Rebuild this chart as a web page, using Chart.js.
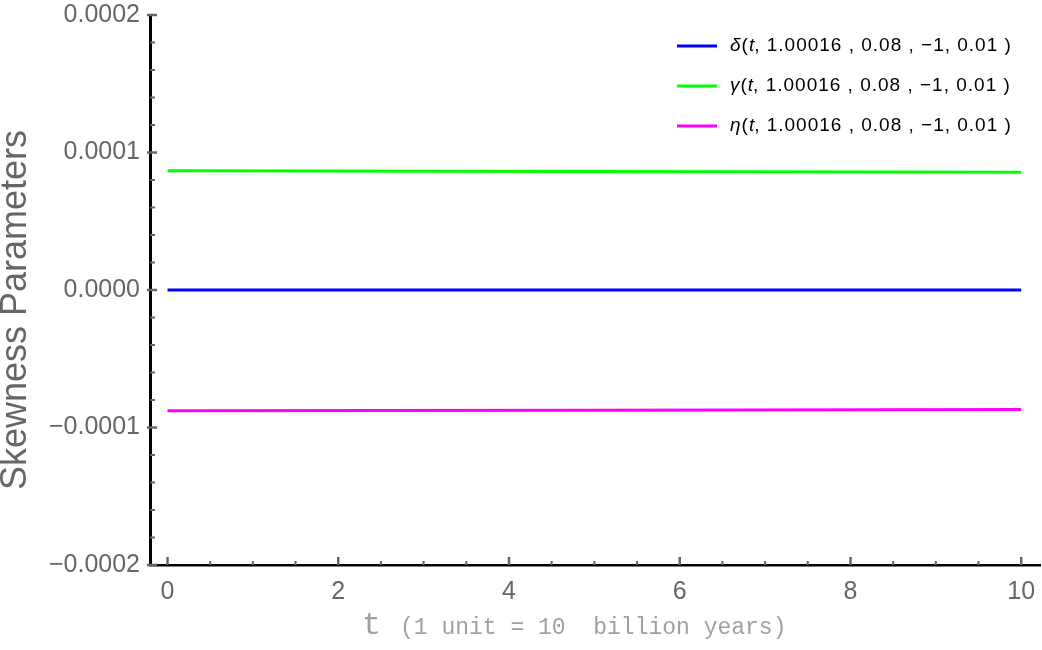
<!DOCTYPE html>
<html>
<head>
<meta charset="utf-8">
<script src="https://cdn.jsdelivr.net/npm/chart.js@4"></script>
<style>
  html, body { margin: 0; padding: 0; background: #fff; }
  #wrap { width: 1042px; height: 650px; }
</style>
</head>
<body>
<div id="wrap"><canvas id="skewChart" width="1042" height="650"></canvas></div>
<script>
// values
const tValues = [0, 5, 10];
const deltaValues = [0, 0, 0];
const gammaValues = [0.0000867, 0.0000862, 0.0000857];
const etaValues = [-0.0000879, -0.0000874, -0.0000869];

const xTicks = [0, 2, 4, 6, 8, 10];
const xMinorTicks = [0.5, 1, 1.5, 2.5, 3, 3.5, 4.5, 5, 5.5, 6.5, 7, 7.5, 8.5, 9, 9.5];
const yTicks = [-0.0002, -0.0001, 0, 0.0001, 0.0002];
const yMinorTicks = [-0.00018, -0.00016, -0.00014, -0.00012, -0.00008, -0.00006, -0.00004, -0.00002,
                     0.00002, 0.00004, 0.00006, 0.00008, 0.00012, 0.00014, 0.00016, 0.00018];

const legendLabels = ['δ', 'γ', 'η'];
const legendRest = ', 1.00016 , 0.08 , \u22121, 0.01 )';
const colors = ['#0000ff', '#00ff00', '#ff00ff'];

const toPoints = vals => tValues.map((t, i) => ({ x: t, y: vals[i] }));

const grey = '#666666';

// tick marks drawn inward, legend, axis titles
const extras = {
  id: 'extras',
  afterDraw(chart) {
    const ctx = chart.ctx;
    const xs = chart.scales.x, ys = chart.scales.y;
    const left = chart.chartArea.left, bottom = chart.chartArea.bottom;
    ctx.save();
    ctx.strokeStyle = grey;
    ctx.lineCap = 'butt';
    ctx.lineWidth = 2.5;
    yTicks.forEach(v => {
      const y = ys.getPixelForValue(v);
      ctx.beginPath(); ctx.moveTo(left - 3, y); ctx.lineTo(left + 7, y); ctx.stroke();
    });
    ctx.lineWidth = 2;
    yMinorTicks.forEach(v => {
      const y = ys.getPixelForValue(v);
      ctx.beginPath(); ctx.moveTo(left, y); ctx.lineTo(left + 5, y); ctx.stroke();
    });
    ctx.lineWidth = 2.5;
    xTicks.forEach(v => {
      const x = xs.getPixelForValue(v);
      ctx.beginPath(); ctx.moveTo(x, bottom); ctx.lineTo(x, bottom - 8); ctx.stroke();
    });
    ctx.lineWidth = 2;
    xMinorTicks.forEach(v => {
      const x = xs.getPixelForValue(v);
      ctx.beginPath(); ctx.moveTo(x, bottom); ctx.lineTo(x, bottom - 4); ctx.stroke();
    });

    // legend
    ctx.textBaseline = 'middle';
    ctx.fillStyle = '#000';
    legendLabels.forEach((g, i) => {
      const y = 46 + i * 40;
      ctx.strokeStyle = colors[i];
      ctx.lineWidth = 3;
      ctx.beginPath(); ctx.moveTo(677, y); ctx.lineTo(717, y); ctx.stroke();
      let x = 730;
      ctx.letterSpacing = '0px';
      ctx.font = 'italic 19px "Liberation Sans", Arial, sans-serif';
      ctx.fillText(g, x, y); x += ctx.measureText(g).width + 1;
      ctx.font = '19px "Liberation Sans", Arial, sans-serif';
      ctx.fillText('(', x, y); x += ctx.measureText('(').width + 1;
      ctx.font = 'italic 19px "Liberation Sans", Arial, sans-serif';
      ctx.fillText('t', x, y); x += ctx.measureText('t').width;
      ctx.font = '19px "Liberation Sans", Arial, sans-serif';
      ctx.letterSpacing = '1px';
      ctx.fillText(legendRest, x, y);
      ctx.letterSpacing = '0px';
    });

    // y title
    ctx.save();
    ctx.translate(16, 310);
    ctx.rotate(-Math.PI / 2);
    ctx.textAlign = 'center';
    ctx.textBaseline = 'middle';
    ctx.fillStyle = grey;
    ctx.font = '36px "Liberation Sans", Arial, sans-serif';
    ctx.fillText('Skewness Parameters', 0, 0);
    ctx.restore();

    // x title
    ctx.textBaseline = 'alphabetic';
    ctx.textAlign = 'left';
    ctx.fillStyle = '#a0a0a0';
    ctx.font = '32px "Liberation Mono", "Courier New", monospace';
    ctx.fillText('t', 362, 634);
    ctx.font = '23px "Liberation Mono", "Courier New", monospace';
    ctx.fillText('(1 unit = 10  billion years)', 400, 634);
    ctx.restore();
  }
};

const chart = new Chart(document.getElementById('skewChart').getContext('2d'), {
  type: 'line',
  data: {
    datasets: [
      { label: 'delta', data: toPoints(deltaValues), borderColor: colors[0] },
      { label: 'gamma', data: toPoints(gammaValues), borderColor: colors[1] },
      { label: 'eta', data: toPoints(etaValues), borderColor: colors[2] }
    ].map(d => Object.assign(d, { borderWidth: 3, pointRadius: 0, fill: false, tension: 0 }))
  },
  options: {
    responsive: false,
    animation: false,
    layout: { padding: { top: 15, right: 2, left: 0, bottom: 0 } },
    plugins: { legend: { display: false }, tooltip: { enabled: false } },
    scales: {
      x: {
        type: 'linear',
        min: -0.205,
        max: 10.22,
        afterFit: s => { s.height = 85; s.paddingLeft = 0; s.paddingRight = 0; },
        afterBuildTicks: s => { s.ticks = xTicks.map(v => ({ value: v })); },
        grid: { display: true, drawOnChartArea: false, drawTicks: false },
        border: { display: true, color: '#000', width: 2.5 },
        ticks: {
          padding: 12,
          color: grey,
          maxRotation: 0,
          font: { size: 25, family: '"Liberation Sans", Arial, sans-serif' },
          callback: v => String(v)
        }
      },
      y: {
        min: -0.0002,
        max: 0.0002,
        afterFit: s => { s.width = 150; s.paddingTop = 0; s.paddingBottom = 0; },
        afterBuildTicks: s => { s.ticks = yTicks.map(v => ({ value: v })); },
        grid: { display: true, drawOnChartArea: false, drawTicks: false },
        border: { display: true, color: '#000', width: 3 },
        ticks: {
          padding: 10,
          color: grey,
          font: { size: 25, family: '"Liberation Sans", Arial, sans-serif' },
          callback: v => (v < 0 ? '\u2212' : '') + Math.abs(v).toFixed(4)
        }
      }
    }
  },
  plugins: [extras]
});
</script>
</body>
</html>
